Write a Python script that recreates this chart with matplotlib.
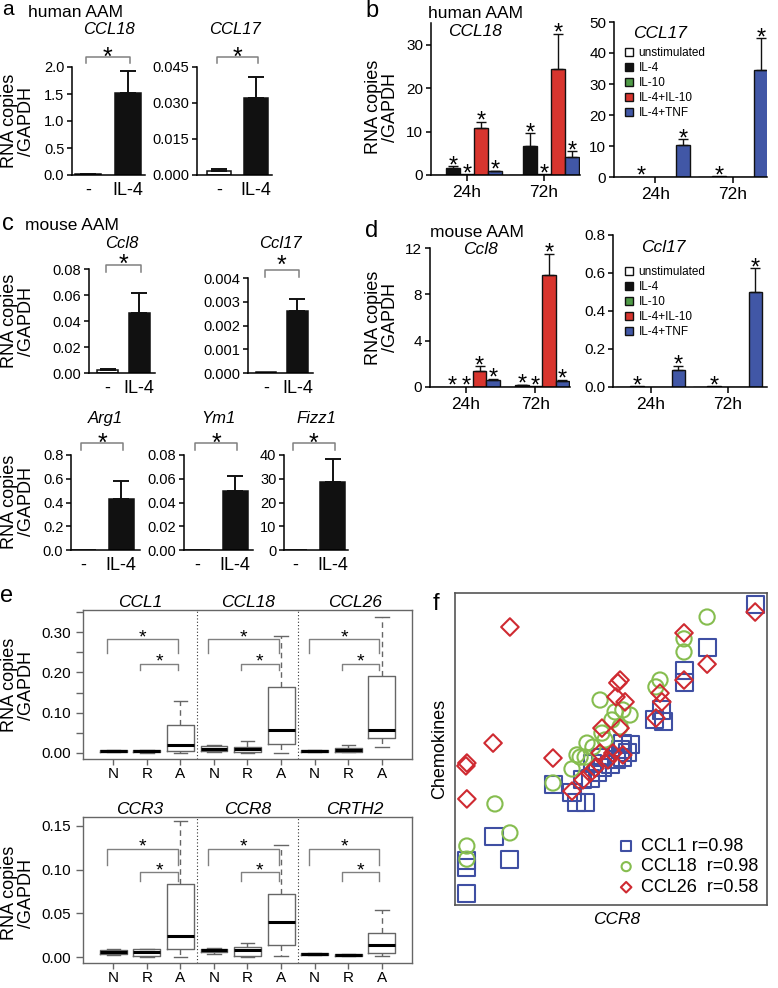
import matplotlib
matplotlib.use("Agg")
import matplotlib.pyplot as plt
import matplotlib.transforms as mtransforms

plt.rcParams['font.family'] = ['Liberation Sans', 'DejaVu Sans']

# DATA
# ///////////////////////////////////////////////////////////////
two_labels = ['-', 'IL-4']

# a : human AAM
a_ccl18 = [0.01, 1.52]
a_ccl18_err = [0.005, 0.40]
a_ccl17 = [0.0015, 0.032]
a_ccl17_err = [0.001, 0.009]

# c : mouse AAM
c_ccl8 = [0.0022, 0.046]
c_ccl8_err = [0.0008, 0.0155]
c_ccl17 = [0.00004, 0.0026]
c_ccl17_err = [0.0, 0.0005]
c_arg1 = [0.0, 0.43]
c_arg1_err = [0.0, 0.15]
c_ym1 = [0.0, 0.050]
c_ym1_err = [0.0, 0.012]
c_fizz1 = [0.0, 28.5]
c_fizz1_err = [0.0, 10.0]

# b / d : rows are 24h, 72h ; columns follow stim_labels
stim_labels = ['unstimulated', 'IL-4', 'IL-10', 'IL-4+IL-10', 'IL-4+TNF']
time_labels = ['24h', '72h']
b_ccl18 = [[0.05, 1.5, 0.15, 10.8, 0.9], [0.05, 6.6, 0.2, 24.5, 4.1]]
b_ccl18_err = [[0, 0.5, 0, 1.5, 0.12], [0, 3.0, 0, 8.0, 1.4]]
b_ccl18_sig = [[0, 1, 1, 1, 1], [0, 1, 1, 1, 1]]
b_ccl17 = [[0.0, 0.05, 0.0, 0.0, 10.2], [0.05, 0.3, 0.0, 0.05, 34.5]]
b_ccl17_err = [[0, 0, 0, 0, 2.0], [0, 0, 0, 0, 10.3]]
b_ccl17_sig = [[0, 1, 0, 0, 1], [0, 1, 0, 0, 1]]
d_ccl8 = [[0.0, 0.03, 0.03, 1.35, 0.6], [0.0, 0.15, 0.08, 9.7, 0.55]]
d_ccl8_err = [[0, 0, 0, 0.45, 0.1], [0, 0.05, 0, 1.8, 0.08]]
d_ccl8_sig = [[0, 1, 1, 1, 1], [0, 1, 1, 1, 1]]
d_ccl17 = [[0.0, 0.003, 0.0, 0.0, 0.09], [0.002, 0.004, 0.0, 0.002, 0.5]]
d_ccl17_err = [[0, 0, 0, 0, 0.022], [0, 0, 0, 0, 0.125]]
d_ccl17_sig = [[0, 1, 0, 0, 1], [0, 1, 0, 0, 1]]

# e : boxplots, groups N R A for each gene
e_groups = ['N', 'R', 'A']
e_top_genes = ['CCL1', 'CCL18', 'CCL26']
e_top_lo = [0.002, 0.001, 0.0, 0.003, 0.0, 0.0, 0.003, 0.002, 0.015]
e_top_q1 = [0.002, 0.002, 0.006, 0.005, 0.002, 0.022, 0.002, 0.002, 0.037]
e_top_med = [0.005, 0.005, 0.020, 0.011, 0.010, 0.056, 0.005, 0.007, 0.057]
e_top_q3 = [0.007, 0.007, 0.069, 0.017, 0.015, 0.165, 0.007, 0.012, 0.190]
e_top_hi = [0.007, 0.008, 0.128, 0.019, 0.030, 0.290, 0.007, 0.020, 0.338]
e_bot_genes = ['CCR3', 'CCR8', 'CRTH2']
e_bot_lo = [0.003, 0.0, 0.0, 0.004, 0.0, 0.001, 0.003, 0.001, 0.001]
e_bot_q1 = [0.004, 0.002, 0.010, 0.006, 0.002, 0.014, 0.003, 0.002, 0.005]
e_bot_med = [0.006, 0.006, 0.024, 0.008, 0.008, 0.040, 0.004, 0.003, 0.014]
e_bot_q3 = [0.008, 0.009, 0.084, 0.009, 0.012, 0.072, 0.005, 0.004, 0.028]
e_bot_hi = [0.010, 0.010, 0.155, 0.011, 0.016, 0.128, 0.005, 0.004, 0.054]

# f : chemokines vs CCR8 (relative units)
f_ccl1_x = [96.2, 80.8, 73.4, 73.4, 66.3, 64.1, 66.7, 53.8, 52.9, 53.8, 51.9, 46.5, 44.2, 47.4,
            41.0, 41.7, 39.1, 37.5, 31.7, 12.5, 17.6, 3.8, 3.8, 3.8, 49.7, 45.8, 43.3, 56.1, 55.4]
f_ccl1_y = [96.2, 82.4, 75.3, 71.2, 62.5, 59.6, 58.7, 51.9, 49.7, 47.4, 46.5, 47.4, 45.5, 44.2,
            40.1, 33.0, 32.7, 35.9, 38.5, 22.1, 14.7, 14.4, 11.9, 3.8, 44.9, 42.6, 40.7, 51.3, 49.0]
f_ccl18_x = [80.8, 73.4, 73.4, 65.7, 64.4, 46.5, 53.8, 52.9, 50.3, 47.1, 44.2, 41.7, 42.3, 40.1,
             39.1, 37.5, 31.4, 12.8, 17.6, 3.8, 3.8, 56.1, 51.3, 48.1]
f_ccl18_y = [92.3, 85.3, 81.1, 72.1, 69.9, 65.7, 62.5, 57.1, 59.3, 55.1, 50.6, 47.4, 51.9, 47.4,
             48.1, 43.6, 39.1, 32.4, 23.1, 18.9, 14.7, 60.9, 61.9, 52.9]
f_ccl26_x = [96.2, 73.4, 80.8, 73.4, 65.7, 66.3, 64.4, 52.9, 52.2, 51.6, 54.5, 47.1, 52.9, 50.6,
             46.5, 53.8, 43.3, 41.0, 37.5, 31.4, 12.2, 3.8, 3.5, 3.8, 17.6, 49.0, 44.9]
f_ccl26_y = [93.9, 87.2, 77.2, 72.1, 67.9, 65.1, 59.9, 72.1, 71.2, 66.7, 65.1, 56.7, 56.7, 48.7,
             48.7, 48.1, 42.3, 40.1, 36.5, 47.1, 51.9, 45.5, 44.6, 34.0, 89.1, 46.5, 43.9]
f_labels = ['CCL1 r=0.98', 'CCL18  r=0.98', 'CCL26  r=0.58']

# STYLE
# ///////////////////////////////////////////////////////////////
BLACK = '#111111'
stim_colors = ['white', BLACK, '#4f9a46', '#d8352e', '#4157a6']
f_colors = ['#3f4fa3', '#86bd4f', '#cf2a31']
GRAY = '#808080'

W, H = 778, 988
fig = plt.figure(figsize=(W / 100, H / 100), dpi=100)


def px_axes(box):
    l, t, r, b = box
    return fig.add_axes([l / W, 1 - b / H, (r - l) / W, (b - t) / H])


def ftext(x, y, s, **kw):
    fig.text(x / W, 1 - y / H, s, **kw)


def star(ax, xy, coords, dy, fs):
    # '*' glyph sits high in its box, pull it down a bit
    ax.annotate('*', xy=xy, xycoords=coords, xytext=(0, dy - 0.3 * fs),
                textcoords='offset points', ha='center', va='center',
                fontsize=fs, annotation_clip=False)


def ylabel(x, y, size=13):
    ftext(x, y, 'RNA copies\n/GAPDH', rotation=90, ha='center', va='center',
          fontsize=size, linespacing=0.95, multialignment='center')


def base_style(ax, tick_fs):
    for s in ['top', 'right']:
        ax.spines[s].set_visible(False)
    for s in ['left', 'bottom']:
        ax.spines[s].set_linewidth(1.1)
    ax.tick_params(axis='y', direction='out', length=3.5, width=1.1, labelsize=tick_fs, pad=2)


def small_bar(box, means, errs, ylim, yticks, fmt, xlim, title, title_y, brk):
    ax = px_axes(box)
    pos = [0, 1]
    ax.bar(pos, means, width=0.66, color=['white', BLACK], edgecolor=BLACK, linewidth=1.1)
    for p, m, e in zip(pos, means, errs):
        if e > 0:
            ax.errorbar([p], [m], yerr=[[0], [e]], fmt='none', ecolor=BLACK,
                        elinewidth=1.4, capsize=5.5, capthick=1.4)
    ax.set_ylim(*ylim)
    ax.set_xlim(*xlim)
    ax.set_yticks(yticks)
    ax.set_yticklabels([fmt.format(t) for t in yticks])
    ax.set_xticks(pos)
    ax.set_xticklabels(two_labels, fontsize=13)
    base_style(ax, 10.5)
    ax.tick_params(axis='x', length=0, pad=5)
    l, t, r, b = box
    ftext((l + r) / 2, title_y, title, style='italic', ha='center', va='center', fontsize=12)
    # significance bracket: y_px, leg_px, star_px
    y_px, leg_px, star_px = brk
    f = lambda y: (b - y) / (b - t)
    tr = mtransforms.blended_transform_factory(ax.transData, ax.transAxes)
    ax.plot([-0.05, -0.05, 1.05, 1.05], [f(y_px + leg_px), f(y_px), f(y_px), f(y_px + leg_px)],
            color=GRAY, lw=1.1, transform=tr, clip_on=False)
    star(ax, (0.5, f(star_px)), tr, 0, 18)
    return ax


def group_bar(box, means, errs, sig, ylim, yticks, fmt, xlim, width):
    ax = px_axes(box)
    for k in range(5):
        xs = [g + (k - 2) * width for g in range(2)]
        m = [means[g][k] for g in range(2)]
        e = [errs[g][k] for g in range(2)]
        ax.bar(xs, m, width, color=stim_colors[k], edgecolor=BLACK, linewidth=1.0,
               label=stim_labels[k])
        for g in range(2):
            if e[g] > 0:
                ax.errorbar([xs[g]], [m[g]], yerr=[[0], [e[g]]], fmt='none', ecolor=BLACK,
                            elinewidth=1.0, capsize=3.5, capthick=1.0)
            if sig[g][k]:
                star(ax, (xs[g], m[g] + e[g]), 'data', 5, 17)
    ax.set_ylim(*ylim)
    ax.set_xlim(*xlim)
    ax.set_yticks(yticks)
    ax.set_yticklabels([fmt.format(t) for t in yticks])
    ax.set_xticks([0, 1])
    ax.set_xticklabels(time_labels, fontsize=12.5)
    base_style(ax, 11)
    ax.tick_params(axis='x', direction='out', length=4, width=1.1, pad=3)
    return ax


def bar_legend(ax, x, y):
    ax.legend(loc='upper left', bbox_to_anchor=(x / W, 1 - y / H), bbox_transform=fig.transFigure,
              frameon=False, fontsize=8.5, handlelength=0.7, handleheight=0.7,
              handletextpad=0.45, labelspacing=0.25, borderpad=0, borderaxespad=0)


# PANEL A
# ///////////////////////////////////////////////////////////////
ftext(2, 0, 'a', fontsize=15, va='top')
ftext(28, 17, 'human AAM', fontsize=12.5, va='baseline')
ylabel(18, 121)
small_bar((72, 67, 145, 175), a_ccl18, a_ccl18_err, (0, 2.0), [0, 0.5, 1.0, 1.5, 2.0], '{:.1f}',
          (-0.41, 1.44), 'CCL18', 30, (57, 6, 50))
small_bar((197, 67, 272, 175), a_ccl17, a_ccl17_err, (0, 0.045), [0, 0.015, 0.030, 0.045], '{:.3f}',
          (-0.6, 1.43), 'CCL17', 30, (57, 6, 50))

# PANEL B
# ///////////////////////////////////////////////////////////////
ftext(365, 0, 'b', fontsize=17, va='top')
ftext(428, 18, 'human AAM', fontsize=12.5, va='baseline')
ylabel(382, 107)
ax = group_bar((431, 23, 580, 175), b_ccl18, b_ccl18_err, b_ccl18_sig, (0, 35), [0, 10, 20, 30],
               '{:.0f}', (-0.47, 1.47), 0.182)
ftext(475, 32, 'CCL18', style='italic', ha='center', va='center', fontsize=12.5)
ax = group_bar((614, 22, 767, 177), b_ccl17, b_ccl17_err, b_ccl17_sig, (0, 50), [0, 10, 20, 30, 40, 50],
               '{:.0f}', (-0.53, 1.44), 0.18)
ftext(660, 34, 'CCL17', style='italic', ha='center', va='center', fontsize=12.5)
bar_legend(ax, 625, 47)

# PANEL C
# ///////////////////////////////////////////////////////////////
ftext(2, 230, 'c', fontsize=17, va='baseline')
ftext(25, 230, 'mouse AAM', fontsize=12.5, va='baseline')
ylabel(18, 321)
small_bar((89, 269, 155, 373), c_ccl8, c_ccl8_err, (0, 0.08), [0, 0.02, 0.04, 0.06, 0.08], '{:.2f}',
          (-0.59, 1.5), 'Ccl8', 243, (265, 7, 257))
small_bar((248, 278, 313, 373), c_ccl17, c_ccl17_err, (0, 0.004), [0, 0.001, 0.002, 0.003, 0.004],
          '{:.3f}', (-0.58, 1.5), 'Ccl17', 243, (270, 7, 258))
ylabel(18, 502)
small_bar((71, 455, 140, 550), c_arg1, c_arg1_err, (0, 0.8), [0, 0.2, 0.4, 0.6, 0.8], '{:.1f}',
          (-0.32, 1.5), 'Arg1', 418, (443, 7, 436))
small_bar((184, 455, 253, 550), c_ym1, c_ym1_err, (0, 0.08), [0, 0.02, 0.04, 0.06, 0.08], '{:.2f}',
          (-0.34, 1.47), 'Ym1', 418, (443, 7, 436))
small_bar((284, 455, 348, 550), c_fizz1, c_fizz1_err, (0, 40), [0, 10, 20, 30, 40], '{:.0f}',
          (-0.29, 1.4), 'Fizz1', 418, (443, 7, 436))

# PANEL D
# ///////////////////////////////////////////////////////////////
ftext(365, 237, 'd', fontsize=17, va='baseline')
ftext(430, 237, 'mouse AAM', fontsize=12.5, va='baseline')
ylabel(382, 318)
ax = group_bar((430, 248, 570, 387), d_ccl8, d_ccl8_err, d_ccl8_sig, (0, 12), [0, 4, 8, 12],
               '{:.0f}', (-0.52, 1.5), 0.195)
ftext(480, 249, 'Ccl8', style='italic', ha='center', va='center', fontsize=12.5)
ax = group_bar((613, 235, 767, 387), d_ccl17, d_ccl17_err, d_ccl17_sig, (0, 0.8),
               [0, 0.2, 0.4, 0.6, 0.8], '{:.1f}', (-0.49, 1.51), 0.18)
ftext(663, 248, 'Ccl17', style='italic', ha='center', va='center', fontsize=12.5)
bar_legend(ax, 625, 266)

# PANEL E
# ///////////////////////////////////////////////////////////////
ftext(0, 602, 'e', fontsize=17, va='baseline')


def box_panel(box, genes, lo, q1, med, q3, hi, ylim, yticks, ylabels, brk_big, brk_small):
    ax = px_axes(box)
    stats = [dict(whislo=lo[i], q1=q1[i], med=med[i], q3=q3[i], whishi=hi[i], fliers=[])
             for i in range(len(med))]
    pos = list(range(1, len(med) + 1))
    ax.bxp(stats, positions=pos, widths=0.8, showfliers=False, capwidths=0.4,
           boxprops=dict(color='#666666', lw=1.0),
           medianprops=dict(color='black', lw=2.2, solid_capstyle='butt'),
           whiskerprops=dict(color='#666666', lw=1.0, ls=(0, (4, 3))),
           capprops=dict(color='#666666', lw=1.0))
    ax.set_xlim(0.1, 9.9)
    ax.set_ylim(*ylim)
    for xs in [3.5, 6.5]:
        ax.axvline(xs, color='#333333', lw=0.8, ls=(0, (1, 2)))
    ax.set_xticks(pos)
    ax.set_xticklabels(e_groups * 3, fontsize=12.5)
    ax.set_yticks(yticks)
    ax.set_yticklabels(ylabels)
    ax.tick_params(axis='both', direction='out', length=5, width=1.0, color='#666666', labelsize=11)
    ax.tick_params(axis='x', length=4, pad=1.5)
    for s in ax.spines.values():
        s.set_color('#666666')
        s.set_linewidth(1.0)
    centers = [1.8, 5.0, 8.2]
    tr = mtransforms.blended_transform_factory(ax.transData, ax.transAxes)
    for k, g in enumerate(genes):
        ax.text(centers[k], 1.0, g, transform=tr, ha='center', va='bottom', style='italic', fontsize=12.5)
        n = 3 * k + 1
        for (x0, x1, ytop, yleg) in [(n - 0.18, n + 1.93, *brk_big), (n + 0.8, n + 1.93, *brk_small)]:
            ax.plot([x0, x0, x1, x1], [yleg, ytop, ytop, yleg], color=GRAY, lw=1.0)
            star(ax, ((x0 + x1) / 2, ytop), 'data', 5, 14)
    return ax


ylabel(18, 685)
box_panel((83, 610, 412, 759), e_top_genes, e_top_lo, e_top_q1, e_top_med, e_top_q3, e_top_hi,
          (-0.015, 0.355), [0, 0.05, 0.10, 0.15, 0.20, 0.25, 0.30, 0.35],
          ['0.00', '', '0.10', '', '0.20', '', '0.30', ''], (0.284, 0.247), (0.222, 0.205))
ylabel(18, 893)
box_panel((83, 817, 412, 963), e_bot_genes, e_bot_lo, e_bot_q1, e_bot_med, e_bot_q3, e_bot_hi,
          (-0.0065, 0.16), [0, 0.05, 0.10, 0.15], ['0.00', '0.05', '0.10', '0.15'],
          (0.124, 0.105), (0.097, 0.087))

# PANEL F
# ///////////////////////////////////////////////////////////////
ftext(433, 610, 'f', fontsize=17, va='baseline')
ax = px_axes((455, 593, 767, 905))
markers = ['s', 'o', 'D']
sizes = [150, 120, 80]
for xs, ys, mk, sz, col, lab in zip([f_ccl1_x, f_ccl18_x, f_ccl26_x], [f_ccl1_y, f_ccl18_y, f_ccl26_y],
                                     markers, sizes, f_colors, f_labels):
    ax.scatter(xs, ys, s=sz, marker=mk, facecolors='none', edgecolors=col, linewidths=1.5, label=lab)
ax.set_xlim(0, 100)
ax.set_ylim(0, 100)
ax.set_xticks([])
ax.set_yticks([])
for s in ax.spines.values():
    s.set_color('#555555')
    s.set_linewidth(1.2)
ax.legend(loc='lower right', frameon=False, fontsize=13, markerscale=0.6, handletextpad=0.2,
          labelspacing=0.2, borderpad=0.3, borderaxespad=0.2, handlelength=1.2)
ftext(440, 749, 'Chemokines', rotation=90, ha='center', va='center', fontsize=13)
ftext(617, 919, 'CCR8', style='italic', ha='center', va='center', fontsize=12.5)

fig.savefig('out.png', dpi=100)
